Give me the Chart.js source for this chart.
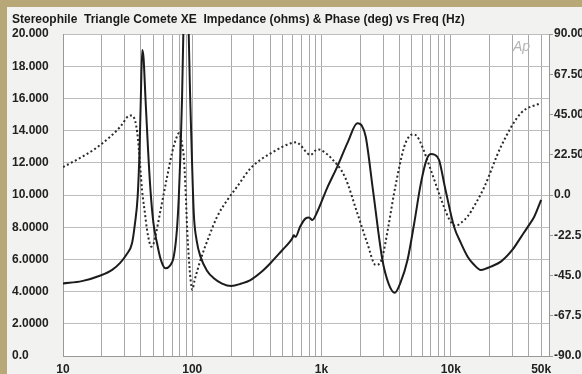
<!DOCTYPE html>
<html>
<head>
<meta charset="utf-8">
<script src="https://cdn.jsdelivr.net/npm/chart.js@4.4.1/dist/chart.umd.min.js"></script>
<style>
  html, body { margin: 0; padding: 0; background: #b8a878; }
  canvas { display: block; }
</style>
</head>
<body>
<canvas id="chart" width="582" height="374"></canvas>
<script>
// impedance magnitude (ohms) vs frequency (Hz)
const impFreq = [10, 14, 19.5, 24, 27.8, 31, 34.2, 36, 37.8, 39, 40, 41, 42, 43.4, 45.5, 47.5, 50, 53.4, 57, 62, 67, 71.9, 76, 78.7, 81, 83.4, 86, 89.5, 93, 96, 98, 102.7, 108, 115.8, 130, 146.8, 170, 200, 240, 282, 340, 404, 500, 570, 594, 610, 630, 680, 754, 800, 849, 927, 1100, 1324, 1600, 1892, 2050, 2198, 2500, 2959, 3300, 3683, 4100, 4624, 5200, 5865, 6500, 7003, 7500, 8117, 9000, 10600, 12000, 13500, 15000, 17100, 19000, 20400, 24400, 30000, 35000, 40000, 44200, 50000]
const impedance = [4.5, 4.65, 5.0, 5.35, 5.8, 6.3, 7.0, 8.2, 9.9, 12.5, 16.0, 19.0, 18.5, 16.1, 12.8, 10.3, 8.3, 7.0, 6.0, 5.45, 5.6, 6.17, 7.8, 9.9, 12.5, 16.1, 21.5, 26, 21.5, 16.5, 14, 8.9, 7.2, 6.17, 5.3, 4.83, 4.5, 4.35, 4.5, 4.72, 5.2, 5.78, 6.6, 7.1, 7.31, 7.5, 7.4, 8.0, 8.55, 8.6, 8.45, 8.96, 10.4, 11.76, 13.3, 14.45, 14.3, 13.62, 10.3, 5.96, 4.5, 3.93, 4.6, 5.96, 8.2, 10.72, 12.2, 12.55, 12.5, 12.17, 10.5, 8.03, 7.0, 6.17, 5.7, 5.34, 5.45, 5.55, 5.86, 6.6, 7.4, 8.1, 8.65, 9.7]

// phase (deg) vs frequency (Hz)
const phaseFreq = [10, 13, 17.2, 23.2, 28, 32.2, 34, 36.3, 37.5, 38.5, 40.9, 43, 44.7, 46.5, 48, 50, 51.8, 57, 63.9, 70, 75, 78.7, 81, 84, 86, 88.5, 91.4, 94, 97.1, 100, 104, 115.8, 135, 156, 190, 222, 282, 336, 404, 500, 576, 640, 683, 822, 900, 951, 1050, 1193, 1514, 1892, 2261, 2623, 2800, 2959, 3300, 3639, 4364, 4800, 5125, 5450, 5865, 7003, 8634, 9800, 10900, 12000, 13500, 15500, 18200, 24400, 34800, 50000]
const phase = [15.6, 20, 25.2, 32.6, 38.5, 44.2, 44.5, 41, 35, 27, 2.8, -10, -19.6, -26, -28.9, -27.5, -23.3, -8, 10.2, 24, 31.5, 34.5, 33, 27, 21.4, 5, -19.6, -35, -47.5, -53, -48, -36.3, -23, -12, -2, 4.6, 14.9, 19.6, 23.3, 27, 28.9, 29.5, 28, 22.4, 25, 25.5, 24, 20.5, 10.2, -10.2, -27, -39.1, -38.5, -34.5, -17, 0.9, 27, 33, 33.9, 33, 28.9, 14, -4.6, -14, -17.3, -15.5, -12, -5, 4.6, 27, 45.7, 51.5]

// axis ticks
const freqGrid = [10, 20, 30, 40, 50, 60, 70, 80, 90, 100, 200, 300, 400, 500, 600, 700, 800, 900, 1000, 2000, 3000, 4000, 5000, 6000, 7000, 8000, 9000, 10000, 20000, 30000, 40000, 50000]
const freqLabels = { 10: "10", 100: "100", 1000: "1k", 10000: "10k", 50000: "50k" }
const impTickLabels = ["0.0", "2.0000", "4.0000", "6.0000", "8.0000", "10.000", "12.000", "14.000", "16.000", "18.000", "20.000"]
const phaseTickLabels = ["-90.0", "-67.5", "-45.0", "-22.5", "0.0", "22.50", "45.00", "67.50", "90.00"]

const title = "Stereophile  Triangle Comete XE  Impedance (ohms) & Phase (deg) vs Freq (Hz)"

Chart.defaults.font.family = "'Liberation Sans', Arial, sans-serif"
Chart.defaults.color = "#222"

const backdrop = {
  id: "backdrop",
  beforeDraw(chart) {
    const { ctx, chartArea: a } = chart
    ctx.save()
    ctx.fillStyle = "#b8a878"
    ctx.fillRect(0, 0, chart.width, chart.height)
    ctx.fillStyle = "#f2f2f0"
    ctx.fillRect(7, 7, chart.width - 7, chart.height - 7)
    ctx.fillStyle = "#ffffff"
    ctx.fillRect(a.left, a.top, a.right - a.left, a.bottom - a.top)
    ctx.restore()
  },
  afterDraw(chart) {
    const ctx = chart.ctx
    ctx.save()
    ctx.font = "italic 14px 'Liberation Sans', Arial, sans-serif"
    ctx.fillStyle = "#b4b4b4"
    ctx.fillText("Ap", 513, 51)
    ctx.restore()
  }
}

new Chart(document.getElementById("chart"), {
  type: "line",
  data: {
    datasets: [
      {
        label: "Impedance",
        data: impFreq.map((f, i) => ({ x: f, y: impedance[i] })),
        yAxisID: "y",
        borderColor: "#1c1c1c",
        borderWidth: 2,
        pointRadius: 0,
        cubicInterpolationMode: "monotone"
      },
      {
        label: "Phase",
        data: phaseFreq.map((f, i) => ({ x: f, y: phase[i] })),
        yAxisID: "y1",
        borderColor: "#2a2a2a",
        borderWidth: 2,
        borderDash: [2, 2.5],
        pointRadius: 0,
        cubicInterpolationMode: "monotone"
      }
    ]
  },
  options: {
    responsive: false,
    animation: false,
    devicePixelRatio: 1,
    layout: { padding: { left: 12, right: 0, top: 0, bottom: 0 } },
    plugins: {
      legend: { display: false },
      tooltip: { enabled: false },
      title: {
        display: true,
        text: title,
        align: "start",
        color: "#1a1a1a",
        font: { size: 12, weight: "bold" },
        padding: { top: 12, bottom: 7.6 }
      }
    },
    scales: {
      x: {
        type: "logarithmic",
        min: 10,
        max: 57500,
        afterBuildTicks: (scale) => {
          scale.ticks = freqGrid.map(v => ({ value: v }))
        },
        afterFit: (scale) => { scale.height = 18 },
        ticks: {
          autoSkip: false,
          maxRotation: 0,
          padding: 6,
          font: { size: 12, weight: "bold" },
          callback: (v) => freqLabels[v] || ""
        },
        grid: { color: "#a8a8a8", lineWidth: 1, tickLength: 0 },
        border: { color: "#999" }
      },
      y: {
        position: "left",
        min: 0,
        max: 20,
        afterBuildTicks: (scale) => {
          scale.ticks = impTickLabels.map((_, i) => ({ value: i * 2 }))
        },
        afterFit: (scale) => { scale.width = 51 },
        ticks: {
          crossAlign: "far",
          padding: 0,
          font: { size: 12, weight: "bold" },
          callback: (v, i) => impTickLabels[i]
        },
        grid: { color: "#bdbdbd", lineWidth: 1, tickLength: 0 },
        border: { color: "#999" }
      },
      y1: {
        position: "right",
        min: -90,
        max: 90,
        afterBuildTicks: (scale) => {
          scale.ticks = phaseTickLabels.map((_, i) => ({ value: -90 + i * 22.5 }))
        },
        afterFit: (scale) => { scale.width = 33 },
        ticks: {
          padding: 1,
          font: { size: 12, weight: "bold" },
          callback: (v, i) => phaseTickLabels[i]
        },
        grid: { drawOnChartArea: false, color: "#999", tickLength: 4 },
        border: { color: "#999" }
      }
    }
  },
  plugins: [backdrop]
})
</script>
</body>
</html>
